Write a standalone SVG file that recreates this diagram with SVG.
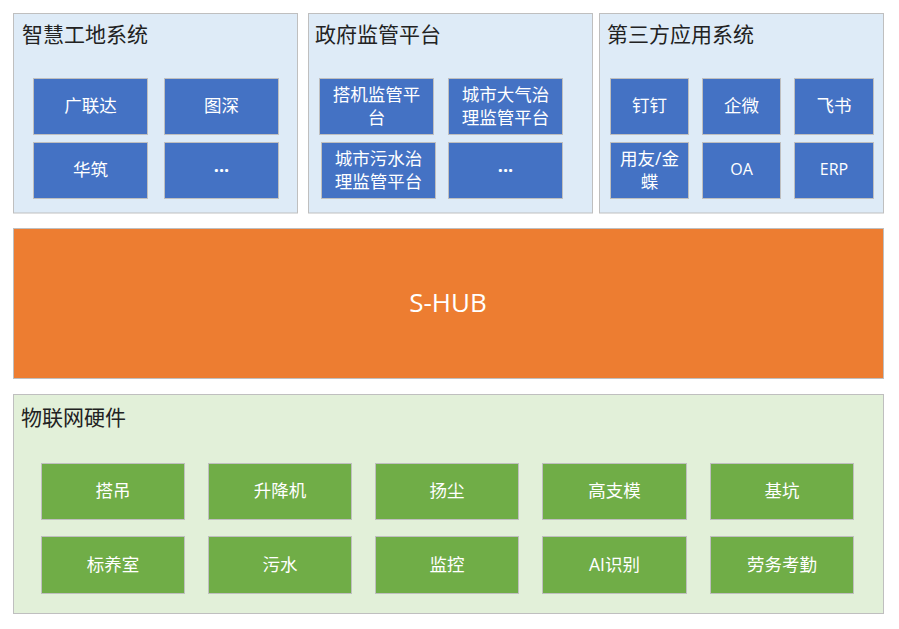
<svg xmlns="http://www.w3.org/2000/svg" width="899" height="629" viewBox="0 0 899 629">
<style>
.bg{fill:#ffffff}
.pb{fill:#DEEBF7;stroke:#BFBFBF;stroke-width:1}
.pg{fill:#E2F0D9;stroke:#BFBFBF;stroke-width:1}
.bb{fill:#4472C4;stroke:#BFBFBF;stroke-width:1}
.gb{fill:#70AD47;stroke:#BFBFBF;stroke-width:1}
.ob{fill:#ED7D31;stroke:#BFBFBF;stroke-width:1}
.ttl{font-family:"Open Sans","Noto Sans CJK SC",sans-serif;font-size:21px;fill:#222222}
.t{font-family:"Open Sans","Noto Sans CJK SC",sans-serif;font-size:17.5px;fill:#ffffff;text-anchor:middle}
.dots{font-family:"Open Sans",sans-serif;font-size:18px;font-weight:bold;fill:#ffffff;text-anchor:middle}
.tl{font-family:"Open Sans","Noto Sans CJK SC",sans-serif;font-size:16px;fill:#ffffff;text-anchor:middle}
.hub{font-family:"Open Sans","Noto Sans CJK SC",sans-serif;font-size:26px;fill:#ffffff;text-anchor:middle}
</style>
<rect class="bg" x="0" y="0" width="899" height="629"/>

<g id="panel-smart-site">
<rect class="pb" x="13.5" y="13.5" width="284" height="199.5"/>
<text class="ttl" x="22" y="42">智慧工地系统</text>
</g>
<g id="n-guangliandа"><rect class="bb" x="33.5" y="78.5" width="114" height="56"/><text class="t" x="90.5" y="112">广联达</text></g>
<g id="n-tushen"><rect class="bb" x="164.5" y="78.5" width="114" height="56"/><text class="t" x="221.5" y="112">图深</text></g>
<g id="n-huazhu"><rect class="bb" x="33.5" y="142.5" width="114" height="56"/><text class="t" x="90.5" y="176">华筑</text></g>
<g id="n-more1"><rect class="bb" x="164.5" y="142.5" width="114" height="56"/><text class="dots" x="221.5" y="172">...</text></g>

<g id="panel-gov">
<rect class="pb" x="308.5" y="13.5" width="284" height="199.5"/>
<text class="ttl" x="315" y="42">政府监管平台</text>
</g>
<g id="n-crane-platform"><rect class="bb" x="319.5" y="78.5" width="114" height="56"/><text class="t" x="376.5" y="100.5">搭机监管平</text><text class="t" x="376.5" y="123.5">台</text></g>
<g id="n-air-platform"><rect class="bb" x="448.5" y="78.5" width="114" height="56"/><text class="t" x="505.5" y="100.5">城市大气治</text><text class="t" x="505.5" y="123.5">理监管平台</text></g>
<g id="n-water-platform"><rect class="bb" x="321.5" y="142.5" width="114" height="56"/><text class="t" x="378.5" y="164.5">城市污水治</text><text class="t" x="378.5" y="187.5">理监管平台</text></g>
<g id="n-more2"><rect class="bb" x="448.5" y="142.5" width="114" height="56"/><text class="dots" x="505.5" y="172">...</text></g>

<g id="panel-third">
<rect class="pb" x="599.5" y="13.5" width="284" height="199.5"/>
<text class="ttl" x="607" y="42">第三方应用系统</text>
</g>
<g id="n-dingding"><rect class="bb" x="610.5" y="78.5" width="78" height="56"/><text class="t" x="649.5" y="112">钉钉</text></g>
<g id="n-qiwei"><rect class="bb" x="702.5" y="78.5" width="78" height="56"/><text class="t" x="741.5" y="112">企微</text></g>
<g id="n-feishu"><rect class="bb" x="794.5" y="78.5" width="79" height="56"/><text class="t" x="834" y="112">飞书</text></g>
<g id="n-yonyou"><rect class="bb" x="610.5" y="142.5" width="78" height="56"/><text class="t" x="649.5" y="164.5">用友/金</text><text class="t" x="649.5" y="187.5">蝶</text></g>
<g id="n-oa"><rect class="bb" x="702.5" y="142.5" width="78" height="56"/><text class="tl" x="741.5" y="175">OA</text></g>
<g id="n-erp"><rect class="bb" x="794.5" y="142.5" width="79" height="56"/><text class="tl" x="834" y="175">ERP</text></g>

<g id="n-shub">
<rect class="ob" x="13.5" y="228.5" width="870" height="150"/>
<text class="hub" x="448" y="312">S-HUB</text>
</g>

<g id="panel-iot">
<rect class="pg" x="13.5" y="394.5" width="870" height="219"/>
<text class="ttl" x="21" y="425">物联网硬件</text>
</g>
<g id="n-tower"><rect class="gb" x="41.5" y="463.5" width="143" height="56"/><text class="t" x="113" y="497">搭吊</text></g>
<g id="n-lift"><rect class="gb" x="208.5" y="463.5" width="143" height="56"/><text class="t" x="280" y="497">升降机</text></g>
<g id="n-dust"><rect class="gb" x="375.5" y="463.5" width="143" height="56"/><text class="t" x="447" y="497">扬尘</text></g>
<g id="n-formwork"><rect class="gb" x="542.5" y="463.5" width="144" height="56"/><text class="t" x="614.5" y="497">高支模</text></g>
<g id="n-pit"><rect class="gb" x="710.5" y="463.5" width="143" height="56"/><text class="t" x="782" y="497">基坑</text></g>
<g id="n-curing"><rect class="gb" x="41.5" y="536.5" width="143" height="57"/><text class="t" x="113" y="571">标养室</text></g>
<g id="n-sewage"><rect class="gb" x="208.5" y="536.5" width="143" height="57"/><text class="t" x="280" y="571">污水</text></g>
<g id="n-monitor"><rect class="gb" x="375.5" y="536.5" width="143" height="57"/><text class="t" x="447" y="571">监控</text></g>
<g id="n-ai"><rect class="gb" x="542.5" y="536.5" width="144" height="57"/><text class="t" x="614.5" y="571">AI识别</text></g>
<g id="n-attendance"><rect class="gb" x="710.5" y="536.5" width="143" height="57"/><text class="t" x="782" y="571">劳务考勤</text></g>

<g id="connectors"></g>
</svg>
